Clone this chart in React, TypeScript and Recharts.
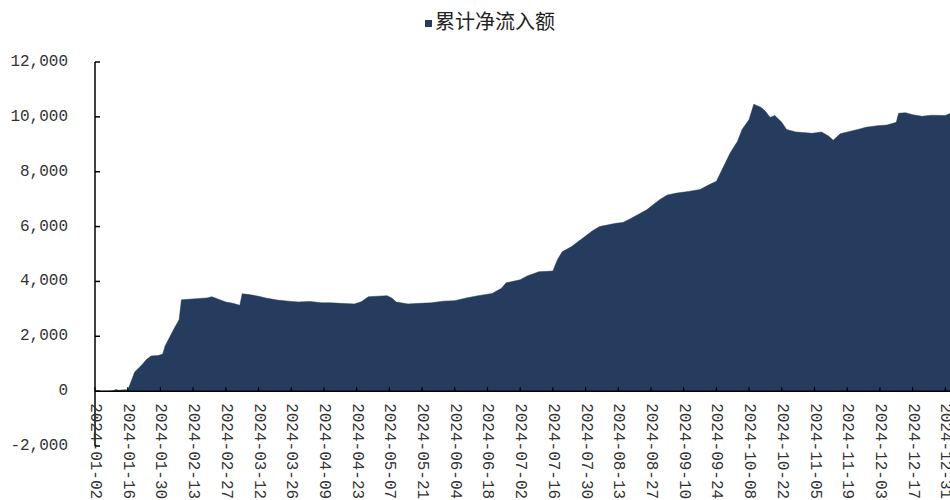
import { AreaChart, Area, XAxis, YAxis, ReferenceLine, Legend } from "recharts"

// cumulative net inflow
const dates = [
  "2024-01-02", "2024-01-05", "2024-01-08", "2024-01-10", "2024-01-11", "2024-01-12", "2024-01-15",
  "2024-01-16", "2024-01-17", "2024-01-19", "2024-01-22", "2024-01-24", "2024-01-26", "2024-01-29",
  "2024-01-31", "2024-02-01", "2024-02-05", "2024-02-07", "2024-02-08", "2024-02-19", "2024-02-21",
  "2024-02-23", "2024-02-27", "2024-03-01", "2024-03-04", "2024-03-05", "2024-03-08", "2024-03-12",
  "2024-03-15", "2024-03-20", "2024-03-25", "2024-03-29", "2024-04-03", "2024-04-08", "2024-04-12",
  "2024-04-16", "2024-04-22", "2024-04-25", "2024-04-28", "2024-05-06", "2024-05-08", "2024-05-10",
  "2024-05-15", "2024-05-20", "2024-05-25", "2024-05-30", "2024-06-04", "2024-06-09", "2024-06-14",
  "2024-06-20", "2024-06-24", "2024-06-26", "2024-07-02", "2024-07-05", "2024-07-10", "2024-07-16",
  "2024-07-18", "2024-07-20", "2024-07-24", "2024-07-29", "2024-08-02", "2024-08-05", "2024-08-12",
  "2024-08-15", "2024-08-18", "2024-08-25", "2024-08-31", "2024-09-03", "2024-09-07", "2024-09-12",
  "2024-09-17", "2024-09-21", "2024-09-24", "2024-09-26", "2024-09-30", "2024-10-03", "2024-10-05",
  "2024-10-08", "2024-10-10", "2024-10-13", "2024-10-15", "2024-10-17", "2024-10-19", "2024-10-22",
  "2024-10-24", "2024-10-28", "2024-10-31", "2024-11-04", "2024-11-08", "2024-11-11", "2024-11-13",
  "2024-11-16", "2024-11-20", "2024-11-24", "2024-11-27", "2024-12-02", "2024-12-06", "2024-12-10",
  "2024-12-11", "2024-12-14", "2024-12-17", "2024-12-21", "2024-12-25", "2024-12-31", "2025-01-02",
]

const inflow = [
  0, 0, 0, 20, 60, 30, 50,
  40, 250, 700, 950, 1150, 1280, 1300,
  1350, 1650, 2300, 2600, 3330, 3400, 3440,
  3380, 3250, 3200, 3130, 3550, 3520, 3460,
  3400, 3320, 3280, 3250, 3270, 3220, 3220,
  3200, 3180, 3260, 3440, 3480, 3400, 3250,
  3180, 3200, 3220, 3280, 3300, 3400, 3480,
  3560, 3750, 3950, 4060, 4200, 4350, 4380,
  4800, 5080, 5270, 5590, 5850, 6000, 6120,
  6150, 6280, 6600, 7000, 7150, 7220, 7280,
  7350, 7530, 7650, 8000, 8700, 9100, 9540,
  9900, 10460, 10350, 10200, 9980, 10050, 9800,
  9540, 9450, 9430, 9400, 9450, 9300, 9150,
  9380, 9470, 9550, 9620, 9680, 9700, 9800,
  10130, 10150, 10080, 10020, 10060, 10050, 10120,
]

const xTicks = [
  "2024-01-02", "2024-01-16", "2024-01-30", "2024-02-13", "2024-02-27", "2024-03-12", "2024-03-26",
  "2024-04-09", "2024-04-23", "2024-05-07", "2024-05-21", "2024-06-04", "2024-06-18", "2024-07-02",
  "2024-07-16", "2024-07-30", "2024-08-13", "2024-08-27", "2024-09-10", "2024-09-24", "2024-10-08",
  "2024-10-22", "2024-11-05", "2024-11-19", "2024-12-03", "2024-12-17", "2024-12-31",
]

const yTicks = [-2000, 0, 2000, 4000, 6000, 8000, 10000, 12000]

const Y_MIN = -2000
const Y_MAX = 12000
const X_START = "2024-01-02"
const X_END = "2025-01-02"

const W = 950
const H = 500
const TOP = 62
const BOTTOM = 53
const FILL = "#253c5e"
const TICK_FONT = "'Liberation Mono', monospace"

const toTs = (d: string) => Date.parse(d + "T00:00:00Z")
const data = dates.map((d, i) => ({ t: toTs(d), value: inflow[i] }))

// y pixel of the zero line, where the date axis crosses
const plotH = H - TOP - BOTTOM - 1
const zeroY = TOP + (plotH * Y_MAX) / (Y_MAX - Y_MIN)

function XTick(props: any) {
  const { x, payload } = props
  const label = new Date(payload.value).toISOString().slice(0, 10)
  const ly = zeroY + 12
  return (
    <g>
      <line x1={x} x2={x} y1={zeroY} y2={zeroY - 4} stroke="#000" strokeWidth={1.2} />
      <text
        x={x}
        y={ly}
        transform={`rotate(90, ${x}, ${ly})`}
        textAnchor="start"
        dominantBaseline="central"
        fontSize={16}
        fontFamily={TICK_FONT}
        fill="#333"
      >
        {label}
      </text>
    </g>
  )
}

function YTick(props: any) {
  const { x, y, payload } = props
  return (
    <g>
      <line x1={x} x2={x + 5} y1={y} y2={y} stroke="#000" strokeWidth={1.5} />
      <text
        x={x - 27}
        y={y}
        textAnchor="end"
        dominantBaseline="central"
        fontSize={16}
        fontFamily={TICK_FONT}
        fill="#333"
      >
        {payload.value.toLocaleString("en-US")}
      </text>
    </g>
  )
}

function LegendContent() {
  return (
    <div
      style={{
        textAlign: "center",
        paddingLeft: 30,
        fontFamily: "'Noto Sans CJK SC', sans-serif",
        fontSize: 20,
        lineHeight: "24px",
        color: "#222",
      }}
    >
      <span
        style={{
          display: "inline-block",
          width: 7,
          height: 7,
          background: FILL,
          marginRight: 3,
          verticalAlign: "middle",
        }}
      />
      累计净流入额
    </div>
  )
}

export default function App() {
  return (
    <div style={{ position: "absolute", left: 0, top: 0, width: W, height: H, overflow: "hidden", background: "#fff" }}>
      <AreaChart width={W} height={H} data={data} margin={{ top: TOP, right: 0, bottom: BOTTOM, left: 0 }}>
        <XAxis
          dataKey="t"
          type="number"
          domain={[toTs(X_START), toTs(X_END)]}
          ticks={xTicks.map(toTs)}
          interval={0}
          height={1}
          axisLine={false}
          tickLine={false}
          tickSize={0}
          tickMargin={0}
          tick={<XTick />}
        />
        <YAxis
          type="number"
          width={95}
          domain={[Y_MIN, Y_MAX]}
          ticks={yTicks}
          interval={0}
          axisLine={{ stroke: "#000", strokeWidth: 1.5 }}
          tickLine={false}
          tickSize={0}
          tickMargin={0}
          tick={<YTick />}
        />
        <Legend
          layout="horizontal"
          verticalAlign="middle"
          align="center"
          wrapperStyle={{ top: 9, left: 0, width: W }}
          content={<LegendContent />}
        />
        <Area
          type="linear"
          dataKey="value"
          name="累计净流入额"
          stroke={FILL}
          strokeWidth={0.5}
          fill={FILL}
          fillOpacity={1}
          dot={false}
          activeDot={false}
          isAnimationActive={false}
        />
        <ReferenceLine y={0} stroke="#000" strokeWidth={1.5} />
      </AreaChart>
    </div>
  )
}
